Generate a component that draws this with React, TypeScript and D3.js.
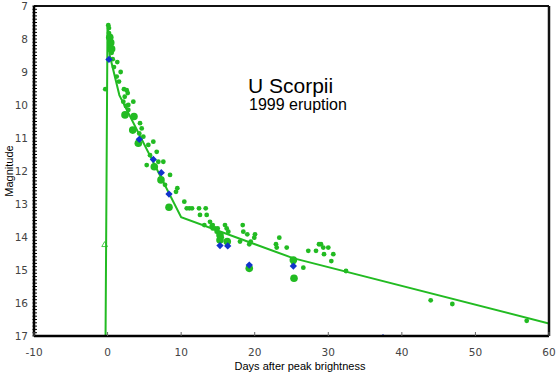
import React from "react";
import * as d3 from "d3";

const xTicks = [-10, 0, 10, 20, 30, 40, 50, 60];
const yTicks = [7, 8, 9, 10, 11, 12, 13, 14, 15, 16, 17];

const fitDays = [-0.28, -0.01, 0.3, 1.6, 10, 25.2, 60];
const fitMags = [17.2, 7.55, 8.5, 9.7, 13.4, 14.64, 16.62];

const greenSmall: [number, number][] = [
  [0.10, 7.58], [0.19, 7.67], [0.19, 7.82], [0.33, 8.33], [0.56, 8.42], [0.70, 8.61], [1.32, 8.70],
  [0.87, 8.85], [1.78, 9.00], [1.24, 9.14], [1.55, 9.29], [2.23, 9.52], [2.60, 9.55], [2.74, 9.64],
  [2.33, 9.75], [3.50, 9.90], [2.14, 9.90], [2.82, 10.00], [2.50, 10.03], [2.82, 10.15], [4.41, 10.55],
  [4.64, 10.71], [4.31, 10.86], [4.86, 10.96], [6.22, 11.11], [5.54, 11.21], [6.68, 11.42], [5.77, 11.52],
  [6.90, 11.72], [7.58, 11.72], [5.32, 11.82], [8.49, 12.12], [7.81, 12.42], [9.48, 12.52], [9.30, 12.63],
  [10.43, 12.93], [10.76, 13.13], [11.12, 13.13], [11.48, 13.13], [12.43, 13.13], [13.34, 13.13],
  [12.56, 13.33], [13.47, 13.33], [13.15, 13.64], [13.92, 13.54], [14.15, 13.67], [14.29, 13.64],
  [14.29, 13.74], [14.60, 13.74], [14.97, 13.74], [14.83, 13.84], [15.51, 14.01], [15.96, 13.64],
  [16.19, 13.74], [16.41, 13.84], [16.27, 14.24], [18.37, 13.64], [18.45, 13.84], [18.99, 13.92],
  [20.04, 13.92], [19.94, 14.02], [19.46, 14.14], [19.26, 14.22], [18.00, 14.14], [23.34, 14.02],
  [22.89, 14.22], [22.99, 14.32], [24.35, 14.32], [27.28, 14.42], [28.33, 14.42], [28.74, 14.22],
  [29.01, 14.22], [29.32, 14.32], [30.00, 14.32], [29.42, 14.52], [30.68, 14.52], [30.41, 14.73],
  [25.25, 14.78], [26.61, 14.93], [32.41, 15.03], [43.92, 15.92], [46.86, 16.03], [56.97, 16.54],
  [-0.31, 9.52],
];

const greenLarge: [number, number][] = [
  [0.43, 8.11], [0.30, 7.95], [0.55, 8.30], [2.37, 10.30], [3.59, 10.35], [3.42, 10.76], [4.18, 11.16],
  [6.35, 11.87], [7.26, 12.27], [8.35, 13.10], [15.28, 13.94], [15.28, 14.09], [16.27, 14.14],
  [25.25, 14.70], [25.34, 15.25], [19.26, 14.95],
];

const blueDiamonds: [number, number][] = [
  [0.19, 8.62], [4.31, 11.04], [6.22, 11.65], [7.30, 12.05], [8.35, 12.70], [15.28, 14.26],
  [16.33, 14.27], [19.26, 14.85], [25.25, 14.88], [37.44, 17.05],
];

const triangles: [number, number][] = [[-0.4, 14.24]];

const GREEN = "#22bb22";
const BLUE = "#1133cc";

export default function App() {
  const W = 556, H = 376;
  const x = d3.scaleLinear().domain([-10, 60]).range([34, 549]);
  const y = d3.scaleLinear().domain([7, 17]).range([6, 336]);
  const line = d3.line<number>().x((_, i) => x(fitDays[i])).y((_, i) => y(fitMags[i]));
  const fitPath = line(fitDays) || "";
  const minor = d3.range(70, 171).map((v) => v / 10);
  const diamond = d3.symbol().type(d3.symbolDiamond2).size(34)() || "";
  const tri = d3.symbol().type(d3.symbolTriangle).size(14)() || "";
  const font = "'DejaVu Sans', Verdana, sans-serif";
  const arial = "'Liberation Sans', Arial, sans-serif";
  return (
    <svg width={W} height={H} style={{ position: "absolute", left: 0, top: 0, background: "#fff" }}>
      <defs>
        <clipPath id="plot">
          <rect x={x(-10)} y={y(7)} width={x(60) - x(-10)} height={y(17) - y(7)} />
        </clipPath>
      </defs>
      <rect x={0} y={0} width={W} height={H} fill="#fff" />
      <g clipPath="url(#plot)">
        <path d={fitPath} fill="none" stroke={GREEN} strokeWidth={2} />
        {greenSmall.map(([d, m], i) => (
          <circle key={"s" + i} cx={x(d)} cy={y(m)} r={2.4} fill={GREEN} />
        ))}
        {greenLarge.map(([d, m], i) => (
          <circle key={"l" + i} cx={x(d)} cy={y(m)} r={3.8} fill={GREEN} />
        ))}
        {blueDiamonds.map(([d, m], i) => (
          <path key={"b" + i} d={diamond} transform={`translate(${x(d)},${y(m)})`} fill={BLUE} />
        ))}
        {triangles.map(([d, m], i) => (
          <path key={"t" + i} d={tri} transform={`translate(${x(d)},${y(m)})`} fill="none" stroke={GREEN} strokeWidth={0.8} />
        ))}
      </g>
      {/* frame */}
      <line x1={x(-10)} x2={x(60)} y1={y(7)} y2={y(7)} stroke="#111" strokeWidth={2} />
      <line x1={x(60)} x2={x(60)} y1={y(7)} y2={y(17)} stroke="#111" strokeWidth={2.5} />
      <line x1={x(-10)} x2={x(60)} y1={y(17)} y2={y(17)} stroke="#000" strokeWidth={2.5} />
      <line x1={x(-10)} x2={x(-10)} y1={y(7)} y2={y(17)} stroke="#000" strokeWidth={2.5} />
      {minor.map((v, i) => (
        <line key={"m" + i} x1={x(-10) - 1.5} x2={x(-10) + 3} y1={y(v)} y2={y(v)} stroke="#000" strokeWidth={1} />
      ))}
      {xTicks.map((t) => (
        <line key={"xt" + t} x1={x(t)} x2={x(t)} y1={y(17)} y2={y(17) - 4} stroke="#666" strokeWidth={1} />
      ))}
      {yTicks.map((t) => (
        <text key={"yl" + t} x={28} y={y(t) + 4} textAnchor="end" fontFamily={font} fontSize={10.5} fill="#444">
          {t}
        </text>
      ))}
      {xTicks.map((t) => (
        <text key={"xl" + t} x={x(t)} y={356} textAnchor="middle" fontFamily={font} fontSize={10.5} fill="#444">
          {t}
        </text>
      ))}
      <text x={300} y={370} textAnchor="middle" fontFamily={arial} fontSize={11} fill="#000">
        Days after peak brightness
      </text>
      <text transform={`translate(13,171) rotate(-90)`} textAnchor="middle" fontFamily={arial} fontSize={11} fill="#000">
        Magnitude
      </text>
      <text x={248} y={93} fontFamily={arial} fontSize={21} fill="#000">
        U Scorpii
      </text>
      <text x={249} y={110} fontFamily={arial} fontSize={16} fill="#000">
        1999 eruption
      </text>
    </svg>
  );
}
